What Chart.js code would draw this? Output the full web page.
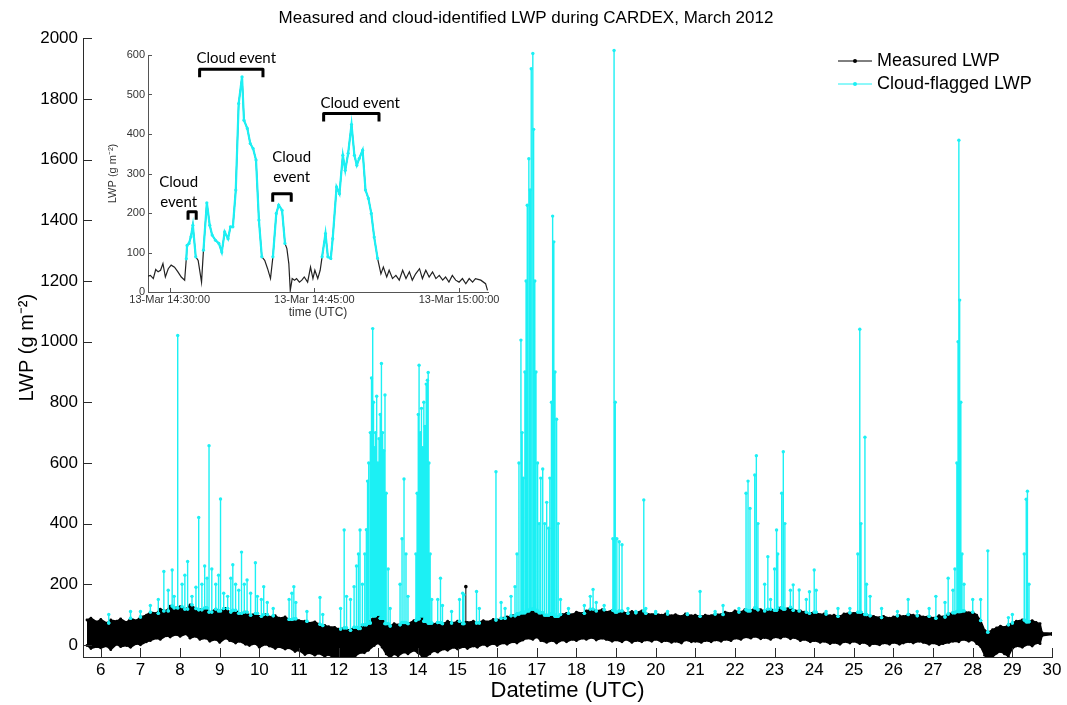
<!DOCTYPE html>
<html>
<head>
<meta charset="utf-8">
<script src="https://cdn.jsdelivr.net/npm/chart.js@4.4.1/dist/chart.umd.min.js"></script>
<style>
  body { margin: 0; background: #fff; }
  #wrap { position: relative; width: 1067px; height: 705px; }
  #main { position: absolute; left: 0; top: 0; }
  #inset { position: absolute; left: 100px; top: 40px; }
</style>
</head>
<body>
<div id="wrap">
  <canvas id="main" width="1067" height="705"></canvas>
  <canvas id="inset" width="420" height="285"></canvas>
</div>
<script>
// ─── Main chart data (day of March 2012, LWP in g m-2) ────────────────────────

const chartTitle = 'Measured and cloud-identified LWP during CARDEX, March 2012';
const seriesNames = ['Measured LWP', 'Cloud-flagged LWP'];
const xTitle = 'Datetime (UTC)';
const yTitle = 'LWP (g m\u207B\u00B2)';
const xTicks = [6,7,8,9,10,11,12,13,14,15,16,17,18,19,20,21,22,23,24,25,26,27,28,29,30];
const yTicks = [0,200,400,600,800,1000,1200,1400,1600,1800,2000];

// measured LWP: upper and lower edge of the dense black trace
const bandDay = [5.65,5.75,5.9,6.0,6.15,6.25,6.4,6.5,6.65,6.75,6.9,7.0,7.15,7.25,7.4,7.5,7.65,7.75,7.9,8.0,
  8.15,8.25,8.4,8.5,8.65,8.75,8.9,9.0,9.15,9.25,9.4,9.5,9.65,9.75,9.9,10.0,10.15,10.25,10.4,10.5,
  10.65,10.75,10.9,11.0,11.15,11.25,11.4,11.5,11.65,11.75,11.9,12.0,12.15,12.25,12.4,12.5,12.65,12.75,12.9,13.0,
  13.1,13.2,13.3,13.4,13.5,13.65,13.75,13.9,14.0,14.1,14.2,14.3,14.4,14.5,14.65,14.75,14.9,15.0,15.15,15.25,
  15.4,15.5,15.65,15.75,15.9,16.0,16.15,16.25,16.4,16.5,16.65,16.75,16.9,17.0,17.1,17.25,17.4,17.5,17.65,17.75,
  17.9,18.0,18.15,18.25,18.4,18.5,18.65,18.75,18.9,19.0,19.15,19.25,19.4,19.5,19.65,19.75,19.9,20.0,20.15,20.25,
  20.4,20.5,20.65,20.75,20.9,21.0,21.15,21.25,21.4,21.5,21.65,21.75,21.9,22.0,22.15,22.25,22.4,22.5,22.65,22.75,
  22.9,23.0,23.15,23.25,23.4,23.5,23.65,23.75,23.9,24.0,24.15,24.25,24.4,24.5,24.65,24.75,24.9,25.0,25.15,25.25,
  25.4,25.5,25.65,25.75,25.9,26.0,26.15,26.25,26.4,26.5,26.65,26.75,26.9,27.0,27.15,27.25,27.4,27.5,27.65,27.75,
  27.9,28.0,28.1,28.2,28.3,28.4,28.5,28.6,28.7,28.8,28.9,29.0,29.1,29.25,29.4,29.5,29.6,29.7,29.75,30.0];
const bandTop = [82,88,76,84,72,82,78,86,74,88,80,92,98,108,104,118,112,128,122,126,
  118,132,120,116,122,108,118,112,120,108,114,104,108,98,104,94,100,92,96,88,
  92,84,86,80,78,72,76,68,64,60,58,52,56,48,58,54,66,72,96,102,
  88,70,62,70,66,74,70,80,86,96,78,72,68,74,70,78,72,78,70,74,
  78,72,80,76,84,82,88,92,96,102,106,112,118,112,106,98,102,94,100,104,
  100,108,104,112,118,112,116,108,114,108,112,104,110,106,112,104,100,104,98,102,
  96,100,94,102,96,98,94,98,96,102,100,108,104,112,108,116,112,122,116,112,
  118,114,122,118,124,114,112,108,104,108,100,102,96,98,94,102,106,104,108,100,
  96,94,90,94,88,92,96,94,100,98,96,92,94,88,96,92,102,106,110,112,
  106,108,98,80,48,42,50,56,62,58,66,72,78,82,76,80,74,70,40,38];
const bandLow = [-2,-12,-6,-10,-4,-16,2,-6,-2,-8,4,0,10,14,22,18,30,26,34,28,
  36,22,28,18,22,12,18,8,22,14,6,12,2,-2,4,-8,2,-4,-12,-6,
  -14,-10,-22,-18,-32,-26,-34,-28,-38,-32,-46,-40,-48,-38,-42,-28,-26,-18,-2,6,
  -8,-30,-42,-30,-36,-24,-30,-18,-26,-36,-40,-30,-20,-24,-14,-18,-8,-14,-6,-12,
  -4,-8,2,-4,4,-2,6,2,10,6,16,22,18,26,14,8,14,6,16,10,
  18,14,22,18,24,16,22,18,12,16,10,18,8,14,10,16,12,18,10,14,
  8,12,6,16,10,12,8,14,10,16,12,18,14,22,18,26,22,28,20,24,
  18,26,22,28,20,24,14,18,10,14,8,12,4,8,2,10,6,12,4,8,
  -2,4,0,6,2,8,2,6,10,6,12,8,2,6,0,4,8,12,10,18,
  12,16,4,-6,-34,-52,-40,-28,-22,-30,-38,-12,-4,-8,2,-4,6,4,30,34];

// isolated measured (black) spike
const blackSpikeDay = [15.21];
const blackSpikePeak = [192];

// cloud-flagged spikes: time and peak value of each
const spikeDay = [6.2,6.75,7.0,7.25,7.45,7.59,7.7,7.8,7.85,7.94,8.05,8.12,8.19,8.3,8.4,8.47,8.55,8.62,8.68,8.73,
  8.8,8.9,8.97,9.02,9.1,9.2,9.28,9.33,9.4,9.48,9.55,9.62,9.69,9.78,9.9,9.95,10.05,10.11,10.2,10.35,
  10.75,10.82,10.87,10.92,11.2,11.53,11.6,12.05,12.14,12.2,12.3,12.39,12.45,12.5,12.54,12.6,12.66,12.7,12.73,12.76,
  12.8,12.83,12.86,12.88,12.9,12.93,12.96,12.99,13.02,13.05,13.08,13.11,13.14,13.17,13.2,13.25,13.3,13.55,13.6,13.65,
  13.7,13.75,13.95,13.98,14.01,14.03,14.06,14.09,14.12,14.15,14.18,14.21,14.24,14.26,14.28,14.31,14.35,14.5,14.57,14.62,
  14.85,15.05,15.13,15.16,15.48,15.55,15.97,16.1,16.2,16.35,16.45,16.5,16.55,16.6,16.63,16.66,16.7,16.73,16.76,16.8,
  16.83,16.86,16.9,16.92,16.95,16.98,17.02,17.06,17.1,17.15,17.2,17.25,17.3,17.33,17.37,17.4,17.43,17.46,17.5,17.54,
  17.6,17.8,18.2,18.35,18.42,18.5,18.7,18.92,18.95,18.98,19.02,19.08,19.15,19.3,19.5,19.7,19.75,20.0,20.3,20.8,
  21.12,21.5,21.7,22.1,22.28,22.33,22.38,22.5,22.54,22.58,22.75,22.83,22.9,23.0,23.05,23.08,23.18,23.22,23.26,23.4,
  23.47,23.62,23.8,23.88,24.0,24.05,24.3,24.6,24.9,25.1,25.15,25.18,25.28,25.32,25.41,25.7,26.1,26.37,26.6,26.9,
  27.07,27.3,27.38,27.5,27.55,27.6,27.63,27.65,27.67,27.7,27.73,27.78,28.0,28.2,28.38,28.9,29.0,29.3,29.35,29.38,
  29.42];
const spikePeak = [100,110,110,130,150,242,180,247,160,1020,200,230,275,160,190,420,200,260,220,657,
  250,200,230,481,170,160,220,264,200,180,306,200,214,170,271,160,150,192,140,120,
  150,170,192,140,110,156,100,120,379,160,150,192,260,300,379,200,300,380,540,600,
  700,880,1043,800,650,700,820,600,680,760,928,700,640,824,500,250,120,200,350,547,
  300,160,300,500,760,922,700,780,650,800,720,860,873,898,600,300,150,150,220,130,
  110,150,170,165,176,120,571,140,120,160,192,300,600,1005,700,550,900,1200,1450,1603,
  1500,1900,1950,1700,1200,900,600,400,550,580,400,470,385,550,800,1414,1329,900,744,400,
  150,120,130,160,183,140,130,350,1960,800,350,340,330,120,110,478,120,110,110,100,
  176,110,130,120,500,540,450,560,624,400,200,291,150,250,379,300,500,637,400,180,
  198,181,150,175,247,180,110,120,120,300,1041,400,685,200,160,120,110,150,110,120,
  160,140,220,180,250,600,1000,1664,1137,800,300,200,150,150,310,90,100,300,480,507,
  200];

// ─── Inset data (13 March, minutes after 14:00 UTC) ───────────────────────────

const insetMin = [27.75,28.0,28.3,28.55,28.8,29.05,29.3,29.55,29.85,30.15,30.5,30.85,31.2,31.55,31.72,31.8,32.0,32.2,32.4,32.7,
  32.95,33.3,33.5,33.85,34.15,34.4,34.75,35.1,35.4,35.7,36.05,36.3,36.55,36.85,37.15,37.5,37.7,38.05,38.35,38.65,
  38.95,39.25,39.55,39.85,40.15,40.45,40.7,41.05,41.3,41.65,41.95,42.15,42.35,42.5,42.7,42.95,43.15,43.45,43.7,43.95,
  44.3,44.6,44.85,45.05,45.35,45.6,45.8,46.15,46.4,46.7,46.9,47.3,47.6,47.95,48.2,48.5,48.85,49.15,49.4,49.65,
  50.0,50.3,50.6,50.9,51.2,51.55,51.9,52.15,52.5,52.75,53.1,53.45,53.8,54.15,54.5,54.85,55.15,55.5,55.9,56.2,
  56.55,56.9,57.25,57.6,57.95,58.3,58.6,58.95,59.3,59.65,60.0,60.35,60.7,61.05,61.4,61.7,62.25,62.75,62.95];
const insetLWP = [40,42,34,57,51,55,72,38,59,68,63,51,38,30,84,118,123,140,169,89,
  80,25,106,226,169,144,131,123,101,152,135,165,165,258,477,545,435,414,376,363,
  334,182,89,80,59,34,89,199,220,207,123,110,72,4,34,30,34,25,30,38,
  25,63,34,55,34,55,89,148,89,85,135,266,249,346,308,351,424,346,321,338,
  359,258,237,199,139,85,46,63,38,55,34,42,30,55,34,51,30,46,59,34,
  55,38,51,34,42,30,38,25,42,30,25,34,21,34,25,34,30,21,4];
const insetCloud = [0,0,0,0,0,0,0,0,0,0,0,0,0,0,1,1,1,1,1,1,
  0,0,1,1,1,1,1,1,1,1,1,1,1,1,1,1,1,1,1,1,
  1,1,1,0,0,0,1,1,1,1,1,0,0,0,0,0,0,0,0,0,
  0,0,0,0,0,0,1,1,1,1,1,1,1,1,1,1,1,1,1,1,
  1,1,1,1,1,1,0,0,0,0,0,0,0,0,0,0,0,0,0,0,
  0,0,0,0,0,0,0,0,0,0,0,0,0,0,0,0,0,0,0];
const insetTickMin = [30, 45, 60];
const insetTickLabels = ['13-Mar 14:30:00', '13-Mar 14:45:00', '13-Mar 15:00:00'];
const insetYTicks = [0,100,200,300,400,500,600];

// cloud event brackets and their labels
const eventStart = [31.9, 33.1, 40.68, 45.96];
const eventEnd   = [32.75, 39.67, 42.6, 51.7];
const eventTop   = [203, 564, 249, 452];
const eventLabelMin = [30.93, 36.9, 42.65, 49.75];
const eventLabelLWP = [279, 592, 342, 478];
const eventLabelText = [['Cloud', 'event'], ['Cloud event'], ['Cloud', 'event'], ['Cloud event']];

// ─── Styling ─────────────────────────────────────────────────────────────────

const FONT = '"Liberation Sans", Arial, sans-serif';
const CYAN = '#1cf0f4';
const AXIS = '#2b2b2b';

// ticks drawn inward from the axis line
const innerTicks = {
  id: 'innerTicks',
  afterDatasetsDraw(chart, args, opts) {
    const { ctx, chartArea, scales } = chart;
    ctx.save();
    ctx.strokeStyle = opts.color;
    ctx.lineWidth = 1;
    scales.x.ticks.forEach(t => {
      const px = Math.round(scales.x.getPixelForValue(t.value)) + 0.5;
      ctx.beginPath();
      ctx.moveTo(px, chartArea.bottom);
      ctx.lineTo(px, chartArea.bottom - opts.length);
      ctx.stroke();
    });
    scales.y.ticks.forEach(t => {
      const py = Math.round(scales.y.getPixelForValue(t.value)) + 0.5;
      ctx.beginPath();
      ctx.moveTo(chartArea.left, py);
      ctx.lineTo(chartArea.left + opts.length, py);
      ctx.stroke();
    });
    ctx.restore();
  }
};

// legend drawn inside the plot, top right
const lineLegend = {
  id: 'lineLegend',
  afterDraw(chart, args, opts) {
    const ctx = chart.ctx;
    ctx.save();
    opts.items.forEach((it, i) => {
      const y = opts.y + i * opts.rowGap;
      ctx.strokeStyle = it.color;
      ctx.lineWidth = 1;
      ctx.beginPath();
      ctx.moveTo(opts.x, y);
      ctx.lineTo(opts.x + opts.lineLen, y);
      ctx.stroke();
      ctx.fillStyle = it.color;
      ctx.beginPath();
      ctx.arc(opts.x + opts.lineLen / 2, y, 2, 0, Math.PI * 2);
      ctx.fill();
      ctx.fillStyle = '#000';
      ctx.font = opts.font;
      ctx.textBaseline = 'middle';
      ctx.fillText(it.label, opts.x + opts.lineLen + 5, y);
    });
    ctx.restore();
  }
};

// brackets + "Cloud event" labels on the inset
const eventMarks = {
  id: 'eventMarks',
  afterDraw(chart) {
    const { ctx, scales: { x, y } } = chart;
    ctx.save();
    ctx.strokeStyle = '#000';
    ctx.lineWidth = 3;
    ctx.lineJoin = 'round';
    eventStart.forEach((s, i) => {
      const x0 = x.getPixelForValue(s);
      const x1 = x.getPixelForValue(eventEnd[i]);
      const yy = y.getPixelForValue(eventTop[i]);
      ctx.beginPath();
      ctx.moveTo(x0, yy + 8);
      ctx.lineTo(x0, yy);
      ctx.lineTo(x1, yy);
      ctx.lineTo(x1, yy + 8);
      ctx.stroke();
    });
    ctx.fillStyle = '#000';
    ctx.font = '15px Lato, "Open Sans", sans-serif';
    ctx.textAlign = 'center';
    ctx.textBaseline = 'middle';
    eventLabelText.forEach((lines, i) => {
      const cx = x.getPixelForValue(eventLabelMin[i]);
      const cy = y.getPixelForValue(eventLabelLWP[i]);
      lines.forEach((ln, j) => ctx.fillText(ln, cx, cy + j * 20));
    });
    ctx.restore();
  }
};

// ─── Build datasets ──────────────────────────────────────────────────────────

function _bandTopAt(day) {
  let best = 0;
  bandDay.forEach((d, i) => { if (Math.abs(d - day) < Math.abs(bandDay[best] - day)) best = i; });
  return bandTop[best];
}

const topPts = bandDay.map((d, i) => ({ x: d, y: bandTop[i] }));
const lowPts = bandDay.map((d, i) => ({ x: d, y: bandLow[i] }));

const cloudPts = [];
spikeDay.forEach((d, i) => {
  const base = _bandTopAt(d);
  cloudPts.push({ x: d, y: base }, { x: d, y: spikePeak[i] }, { x: d, y: base }, { x: d, y: null });
});

const blackPts = [];
blackSpikeDay.forEach((d, i) => {
  const base = _bandTopAt(d);
  blackPts.push({ x: d, y: base }, { x: d, y: blackSpikePeak[i] }, { x: d, y: null });
});

// ─── Main chart ──────────────────────────────────────────────────────────────

new Chart(document.getElementById('main'), {
  type: 'line',
  data: {
    datasets: [
      {
        label: 'band top',
        data: topPts,
        borderColor: '#000',
        backgroundColor: '#000',
        borderWidth: 1.5,
        pointRadius: 1.4,
        pointBackgroundColor: '#000',
        pointBorderWidth: 0,
        fill: '+1',
        tension: 0,
        order: 2,
      },
      {
        label: 'band low',
        data: lowPts,
        borderColor: '#000',
        borderWidth: 1.5,
        pointRadius: 1.4,
        pointBackgroundColor: '#000',
        pointBorderWidth: 0,
        fill: false,
        order: 3,
      },
      {
        label: seriesNames[0],
        data: blackPts,
        borderColor: '#000',
        borderWidth: 1,
        pointRadius: 1.8,
        pointBackgroundColor: '#000',
        pointBorderWidth: 0,
        spanGaps: false,
        order: 1,
      },
      {
        label: seriesNames[1],
        data: cloudPts,
        borderColor: CYAN,
        borderWidth: 1.4,
        pointRadius: 1.7,
        pointBackgroundColor: CYAN,
        pointBorderWidth: 0,
        spanGaps: false,
        order: -1,
      },
    ],
  },
  options: {
    animation: false,
    responsive: false,
    events: [],
    layout: { padding: { top: 0, right: 15, bottom: 0, left: 0 } },
    plugins: {
      legend: { display: false },
      tooltip: { enabled: false },
      title: {
        display: true,
        text: chartTitle,
        color: '#000',
        font: { family: FONT, size: 17, weight: 'normal' },
        padding: { top: 8, bottom: 10 },
      },
      innerTicks: { length: 9, color: AXIS },
      lineLegend: {
        x: 838, y: 61, rowGap: 23, lineLen: 34,
        font: '18px ' + FONT,
        items: [
          { label: seriesNames[0], color: '#000' },
          { label: seriesNames[1], color: CYAN },
        ],
      },
    },
    scales: {
      x: {
        type: 'linear',
        min: 5.55,
        max: 30,
        afterBuildTicks: s => { s.ticks = xTicks.map(v => ({ value: v })); },
        afterFit: s => { s.height = 48; },
        grid: { display: false, drawTicks: false },
        border: { display: true, color: AXIS, width: 1 },
        ticks: { color: '#000', font: { family: FONT, size: 17 }, padding: 3, autoSkip: false, maxRotation: 0, callback: v => String(v) },
        title: { display: true, text: xTitle, color: '#000', font: { family: FONT, size: 22 }, padding: { top: 0, bottom: 1 } },
      },
      y: {
        type: 'linear',
        min: -40,
        max: 2000,
        afterBuildTicks: s => { s.ticks = yTicks.map(v => ({ value: v })); },
        afterFit: s => { s.width = 83; },
        grid: { display: false, drawTicks: false },
        border: { display: true, color: AXIS, width: 1 },
        ticks: { color: '#000', font: { family: FONT, size: 17 }, padding: 5, callback: v => String(v) },
        title: { display: true, text: yTitle, color: '#000', font: { family: FONT, size: 20 }, padding: { top: 15, bottom: 0 } },
      },
    },
  },
  plugins: [innerTicks, lineLegend],
});

// ─── Inset chart ─────────────────────────────────────────────────────────────

const insetPts = insetMin.map((m, i) => ({ x: m, y: insetLWP[i] }));
const insetCloudPts = insetMin.map((m, i) => ({ x: m, y: insetCloud[i] ? insetLWP[i] : null }));

new Chart(document.getElementById('inset'), {
  type: 'line',
  data: {
    datasets: [
      {
        label: seriesNames[1],
        data: insetCloudPts,
        borderColor: CYAN,
        borderWidth: 2.2,
        pointRadius: 1.6,
        pointBackgroundColor: CYAN,
        pointBorderWidth: 0,
        spanGaps: false,
        order: -1,
      },
      {
        label: seriesNames[0],
        data: insetPts,
        borderColor: '#222',
        borderWidth: 1.2,
        pointRadius: 0,
        order: 1,
      },
    ],
  },
  options: {
    animation: false,
    responsive: false,
    events: [],
    layout: { padding: { top: 15, right: 32, bottom: 0, left: 0 } },
    plugins: {
      legend: { display: false },
      tooltip: { enabled: false },
      innerTicks: { length: 4, color: '#555' },
    },
    scales: {
      x: {
        type: 'linear',
        min: 27.75,
        max: 63,
        afterBuildTicks: s => { s.ticks = insetTickMin.map(v => ({ value: v })); },
        afterFit: s => { s.height = 33; },
        grid: { display: false, drawTicks: false },
        border: { display: true, color: '#555', width: 1 },
        ticks: {
          color: '#333', font: { family: FONT, size: 11 }, padding: 1, autoSkip: false, maxRotation: 0,
          callback: (v, i) => insetTickLabels[i],
        },
        title: { display: true, text: 'time (UTC)', color: '#333', font: { family: FONT, size: 12 }, padding: { top: 0, bottom: 5 } },
      },
      y: {
        type: 'linear',
        min: 0,
        max: 600,
        afterBuildTicks: s => { s.ticks = insetYTicks.map(v => ({ value: v })); },
        afterFit: s => { s.width = 48; },
        grid: { display: false, drawTicks: false },
        border: { display: true, color: '#555', width: 1 },
        ticks: { color: '#333', font: { family: FONT, size: 11 }, padding: 3, callback: v => String(v) },
        title: { display: true, text: yTitle, color: '#333', font: { family: FONT, size: 11 }, padding: { top: 6, bottom: 0 } },
      },
    },
  },
  plugins: [innerTicks, eventMarks],
});
</script>
</body>
</html>
